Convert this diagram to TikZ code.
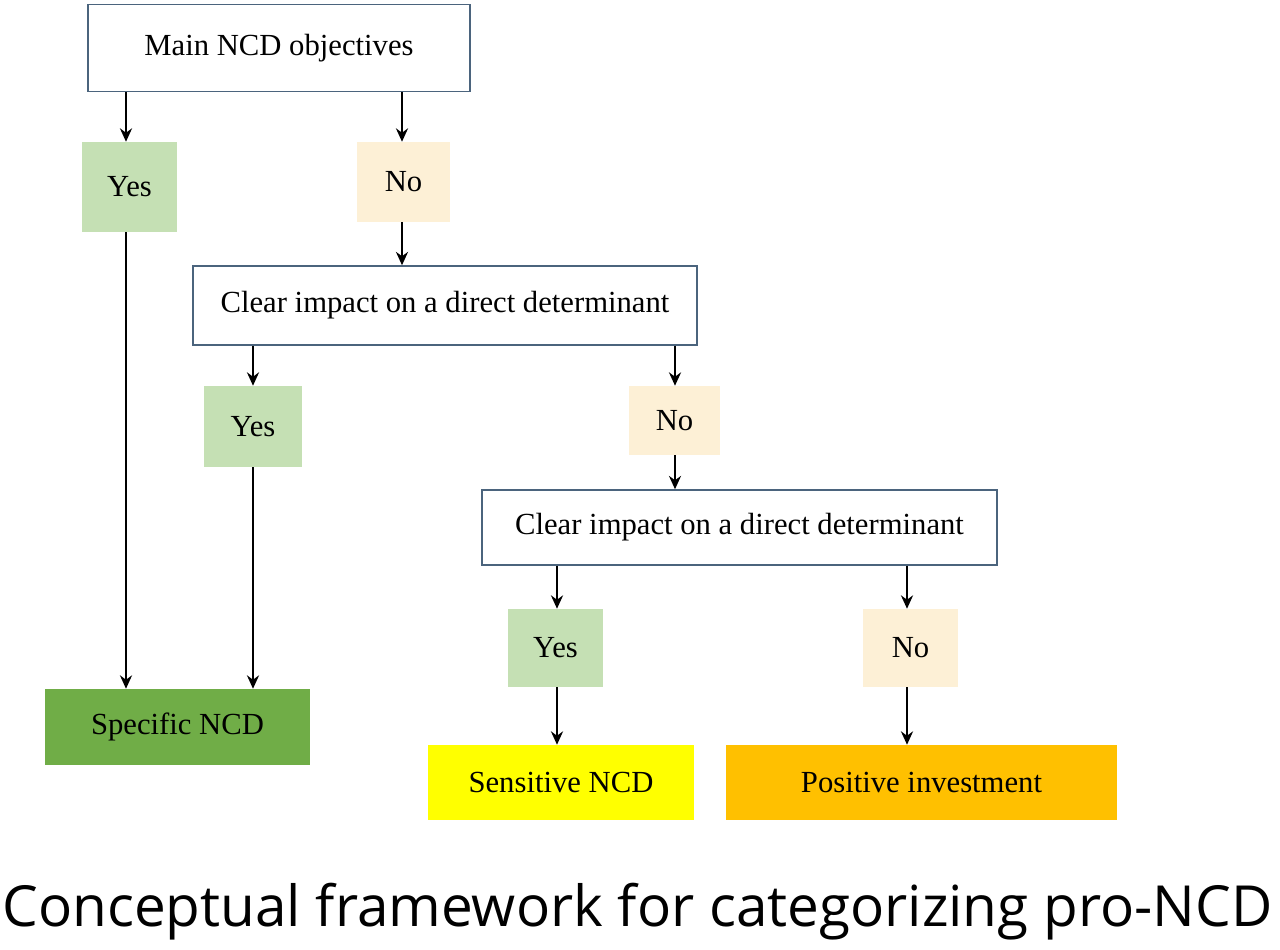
\documentclass[tikz,border=0pt]{standalone}
\usepackage{fontspec}
\setmainfont{Liberation Serif}
\newfontfamily\capfont{Open Sans}
\usetikzlibrary{arrows.meta}
\definecolor{bord}{RGB}{75,100,125}
\definecolor{yesc}{RGB}{197,224,180}
\definecolor{noc}{RGB}{253,240,214}
\begin{document}
\begin{tikzpicture}[x=0.75pt,y=-0.75pt,
  bx/.style={draw=bord,line width=1.1pt,fill=white,inner sep=0pt},
  yesbox/.style={fill=yesc,inner sep=0pt},
  nobox/.style={fill=noc,inner sep=0pt},
  arr/.style={-{Stealth[length=10pt,width=9pt]},line width=1.8pt},
  txt/.style={font=\fontsize{23}{27}\selectfont}]
\useasboundingbox (0,0) rectangle (1280,949);
\clip (0,0) rectangle (1280,949);
\fill[white] (0,0) rectangle (1280,949);
\node[bx,minimum width=382*0.75pt,minimum height=87*0.75pt,txt] (main) at (279,48) {Main NCD objectives};
\node[yesbox,minimum width=95*0.75pt,minimum height=90*0.75pt,txt] (y1) at (129.5,187) {Yes};
\node[nobox,minimum width=93*0.75pt,minimum height=80*0.75pt,txt] (n1) at (403.5,182) {No};
\node[bx,minimum width=504*0.75pt,minimum height=79*0.75pt,txt] (c1) at (445,305.5) {Clear impact on a direct determinant};
\node[yesbox,minimum width=98*0.75pt,minimum height=81*0.75pt,txt] (y2) at (253,426.5) {Yes};
\node[nobox,minimum width=91*0.75pt,minimum height=69*0.75pt,txt] (n2) at (674.5,420.5) {No};
\node[bx,minimum width=515*0.75pt,minimum height=75*0.75pt,txt] (c2) at (739.5,527.5) {Clear impact on a direct determinant};
\node[yesbox,minimum width=95*0.75pt,minimum height=78*0.75pt,txt] (y3) at (555.5,648) {Yes};
\node[nobox,minimum width=95*0.75pt,minimum height=78*0.75pt,txt] (n3) at (910.5,648) {No};
\node[fill={rgb,255:red,112;green,173;blue,71},minimum width=265*0.75pt,minimum height=76*0.75pt,inner sep=0pt,txt] (spec) at (177.5,727) {Specific NCD};
\node[fill={rgb,255:red,255;green,255;blue,0},minimum width=266*0.75pt,minimum height=75*0.75pt,inner sep=0pt,txt] (sens) at (561,782.5) {Sensitive NCD};
\node[fill={rgb,255:red,255;green,192;blue,0},minimum width=391*0.75pt,minimum height=75*0.75pt,inner sep=0pt,txt] (pos) at (921.5,782.5) {Positive investment};
\draw[arr] (main.south -| 126,0) -- (y1.north -| 126,0);
\draw[arr] (main.south -| 402,0) -- (n1.north -| 402,0);
\draw[arr] (y1.south -| 126,0) -- (spec.north -| 126,0);
\draw[arr] (n1.south -| 402,0) -- (c1.north -| 402,0);
\draw[arr] (c1.south -| 253,0) -- (y2.north -| 253,0);
\draw[arr] (c1.south -| 675,0) -- (n2.north -| 675,0);
\draw[arr] (y2.south -| 253,0) -- (spec.north -| 253,0);
\draw[arr] (n2.south -| 675,0) -- (c2.north -| 675,0);
\draw[arr] (c2.south -| 557,0) -- (y3.north -| 557,0);
\draw[arr] (c2.south -| 907,0) -- (n3.north -| 907,0);
\draw[arr] (y3.south -| 557,0) -- (sens.north -| 557,0);
\draw[arr] (n3.south -| 907,0) -- (pos.north -| 907,0);
\node[anchor=base west,inner sep=0pt,font=\capfont\fontsize{42.5}{50}\selectfont] (cap) at (2,926) {Conceptual framework for categorizing pro-NCD};
\end{tikzpicture}
\end{document}
